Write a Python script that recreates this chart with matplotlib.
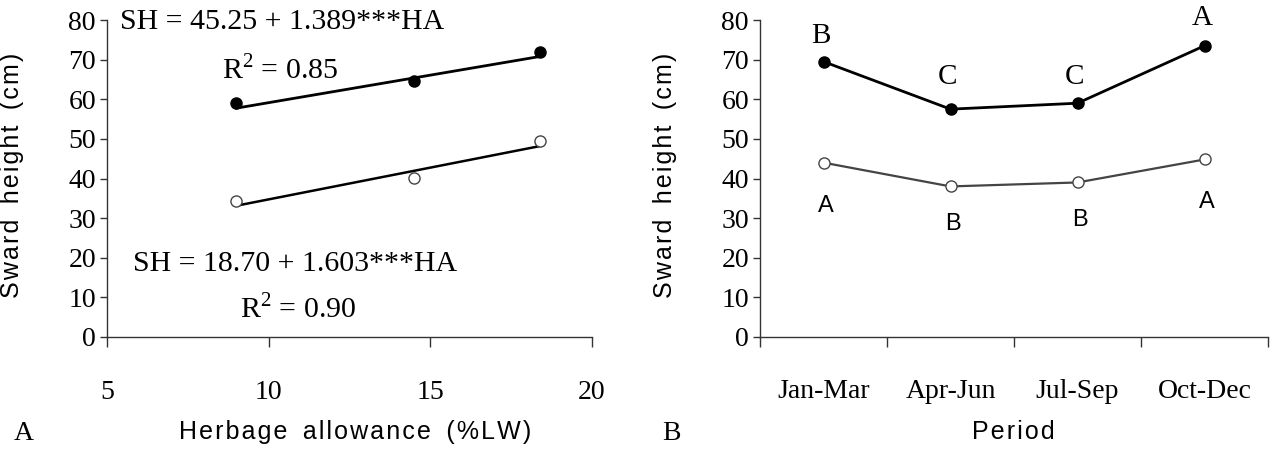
import matplotlib
matplotlib.use("Agg")
import matplotlib.pyplot as plt
from matplotlib.ticker import FixedLocator
import numpy as np

# panel A: sward height vs herbage allowance
ha = [9.0, 14.5, 18.4]
sh_high = [59.0, 64.5, 72.0]
sh_low = [34.3, 40.2, 49.5]
# regression coefficients (intercept, slope) as printed on the chart
fit_high = (45.25, 1.389)
fit_low = (18.70, 1.603)

# panel B: sward height per period
periods = ["Jan-Mar", "Apr-Jun", "Jul-Sep", "Oct-Dec"]
period_high = [69.5, 57.5, 59.0, 73.5]
period_low = [44.0, 38.0, 39.0, 44.8]
letters_high = ["B", "C", "C", "A"]
letters_low = ["A", "B", "B", "A"]

serif = "Liberation Serif"
sans = ["Liberation Sans", "DejaVu Sans"]
HAIR = "\u200a"

plt.rcParams["mathtext.fontset"] = "custom"
plt.rcParams["mathtext.rm"] = "Liberation Serif"


def spaced(s):
    # wide letter spacing like the original figure
    return HAIR.join(s).replace(" ", " " + HAIR * 2)


fig = plt.figure(figsize=(12.72, 4.65), dpi=100)
axA = fig.add_axes([107 / 1272, 1 - 337 / 465, (592 - 107) / 1272, 317 / 465])
axB = fig.add_axes([760 / 1272, 1 - 337 / 465, (1268 - 760) / 1272, 317 / 465])


def style(ax):
    for s in ["top", "right"]:
        ax.spines[s].set_visible(False)
    for s in ["left", "bottom"]:
        ax.spines[s].set_linewidth(1.0)
        ax.spines[s].set_color("#333333")
    ax.set_ylim(0, 80)
    ax.set_yticks(range(0, 81, 10))
    ax.tick_params(axis="y", direction="out", length=5, width=1, pad=3, colors="#333333",
                   labelcolor="black")
    for lab in ax.get_yticklabels():
        lab.set_fontfamily(serif)
        lab.set_fontsize(20)


# ---- panel A ----
style(axA)
axA.set_xlim(5, 20)
axA.set_xticks([5, 10, 15, 20])
axA.tick_params(axis="x", direction="out", length=7, width=1, pad=24, colors="#333333",
                labelcolor="black")
for lab in axA.get_xticklabels():
    lab.set_fontfamily(serif)
    lab.set_fontsize(20)

xs = np.array([ha[0], ha[-1]])
axA.plot(xs, fit_high[0] + fit_high[1] * xs, color="black", lw=2, zorder=2)
axA.plot(xs, fit_low[0] + fit_low[1] * xs, color="black", lw=1.8, zorder=2)
axA.plot(ha, sh_high, "o", color="black", ms=8, zorder=3, clip_on=False)
axA.plot(ha, sh_low, "o", mfc="white", mec="#444444", mew=1, ms=8, zorder=3)

axA.text(5.4, 79.5, "SH = 45.25 + 1.389***HA", fontfamily=serif, fontsize=21.5, va="center")
axA.text(8.56, 67.5, r"R$^{\mathrm{2}}$ = 0.85", fontfamily=serif, fontsize=21.5, va="center")
axA.text(5.8, 18.5, "SH = 18.70 + 1.603***HA", fontfamily=serif, fontsize=21.5, va="center")
axA.text(9.1, 7.0, r"R$^{\mathrm{2}}$ = 0.90", fontfamily=serif, fontsize=21.5, va="center")

fig.text(355 / 1272, 1 - 432 / 465, spaced("Herbage allowance (%LW)"), fontfamily=sans,
         fontsize=18, ha="center", va="center")
fig.text(12 / 1272, 1 - 175 / 465, spaced("Sward height (cm)"), fontfamily=sans,
         fontsize=18, ha="center", va="center", rotation=90)
fig.text(14 / 1272, 1 - 433 / 465, "A", fontfamily=serif, fontsize=20, va="center")

# ---- panel B ----
style(axB)
xpos = np.arange(1, len(periods) + 1)
axB.set_xlim(0.5, len(periods) + 0.5)
axB.set_xticks(xpos)
axB.set_xticklabels(periods)
axB.xaxis.set_minor_locator(FixedLocator(np.arange(0.5, len(periods) + 1, 1)))
axB.tick_params(axis="x", which="major", length=0, pad=30)
axB.tick_params(axis="x", which="minor", direction="out", length=7, width=1, colors="#333333")
for lab in axB.get_xticklabels():
    lab.set_fontfamily(serif)
    lab.set_fontsize(20)

axB.plot(xpos, period_high, "-o", color="black", lw=2, ms=8, zorder=3)
axB.plot(xpos, period_low, "-o", color="#444444", lw=1.6, mfc="white", mec="#444444",
         mew=1, ms=8, zorder=3)

high_y = [76.0, 65.5, 65.5, 80.5]
low_y = [33.0, 28.5, 29.5, 34.0]
for x, y, t in zip(xpos, high_y, letters_high):
    axB.text(x - 0.02, y, t, fontfamily=serif, fontsize=21, ha="center", va="center",
             clip_on=False)
for x, y, t in zip(xpos, low_y, letters_low):
    axB.text(x + 0.02, y, t, fontfamily=sans, fontsize=17, ha="center", va="center")

fig.text(1013 / 1272, 1 - 432 / 465, spaced("Period"), fontfamily=sans, fontsize=18,
         ha="center", va="center")
fig.text(665 / 1272, 1 - 175 / 465, spaced("Sward height (cm)"), fontfamily=sans,
         fontsize=18, ha="center", va="center", rotation=90)
fig.text(662 / 1272, 1 - 433 / 465, "B", fontfamily=serif, fontsize=20, va="center")

fig.savefig("out.png", dpi=100)
